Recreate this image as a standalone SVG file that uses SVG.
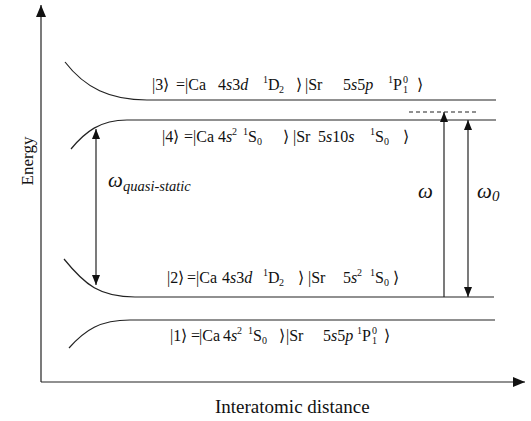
<svg xmlns="http://www.w3.org/2000/svg" width="531" height="421" viewBox="0 0 531 421">
<style>
  .ln{fill:none;stroke:#222;stroke-width:1.2}
  .t{font-family:'Liberation Serif','Times New Roman',Times,serif;font-size:16px;fill:#111}
  .s{font-family:'Liberation Serif','Times New Roman',Times,serif;font-size:10px;fill:#111}
  .i{font-style:italic}
</style>
<defs>
  <marker id="ah" viewBox="0 0 10 8" refX="10" refY="4" markerWidth="10" markerHeight="8" markerUnits="userSpaceOnUse" orient="auto-start-reverse">
    <path d="M0,0 L10,4 L0,8 Z" fill="#111"/>
  </marker>
  <marker id="ahb" viewBox="0 0 12 10" refX="12" refY="5" markerWidth="12" markerHeight="10" markerUnits="userSpaceOnUse" orient="auto">
    <path d="M0,0 L12,5 L0,10 Z" fill="#111"/>
  </marker>
</defs>
<rect width="531" height="421" fill="#fff"/>

<g id="axes">
  <line class="ln" x1="41" y1="382" x2="41" y2="5" marker-end="url(#ahb)"/>
  <line class="ln" x1="41" y1="382" x2="525" y2="382" marker-end="url(#ahb)"/>
  <text class="t" style="font-size:17px" text-anchor="middle" transform="translate(33,161) rotate(-90)">Energy</text>
  <text class="t" style="font-size:19px" x="215" y="413">Interatomic distance</text>
</g>

<g id="state3">
  <path class="ln" d="M65,62 C85,88 110,100 147,100 L496,100"/>
  <text class="t" y="90"><tspan x="152">|3⟩</tspan><tspan x="176">=</tspan><tspan x="185">|Ca</tspan><tspan x="218">4<tspan class="i">s</tspan>3<tspan class="i">d</tspan></tspan><tspan x="268">D</tspan><tspan x="296">⟩</tspan><tspan x="305">|Sr</tspan><tspan x="343">5<tspan class="i">s</tspan>5<tspan class="i">p</tspan></tspan><tspan x="393">P</tspan><tspan x="417">⟩</tspan></text>
  <text class="s" x="263" y="83">1</text><text class="s" x="279" y="93">2</text>
  <text class="s" x="388" y="83">1</text><text class="s" x="403" y="93">1</text><text class="s" x="403" y="83">0</text>
</g>

<g id="state4">
  <path class="ln" d="M71,149 C85,132 100,120 127,120 L496,120"/>
  <text class="t" y="142"><tspan x="162">|4⟩</tspan><tspan x="184">=</tspan><tspan x="193">|Ca</tspan><tspan x="218">4<tspan class="i">s</tspan></tspan><tspan x="248">S</tspan><tspan x="283">⟩</tspan><tspan x="293">|Sr</tspan><tspan x="318">5<tspan class="i">s</tspan>10<tspan class="i">s</tspan></tspan><tspan x="375">S</tspan><tspan x="403">⟩</tspan></text>
  <text class="s" x="232" y="135">2</text><text class="s" x="243" y="135">1</text><text class="s" x="257" y="145">0</text>
  <text class="s" x="370" y="135">1</text><text class="s" x="384" y="145">0</text>
</g>

<g id="state2">
  <path class="ln" d="M64,259 C85,285 100,297 135,297 L494,297"/>
  <text class="t" y="283"><tspan x="167">|2⟩</tspan><tspan x="187">=</tspan><tspan x="196">|Ca</tspan><tspan x="222">4<tspan class="i">s</tspan>3<tspan class="i">d</tspan></tspan><tspan x="268">D</tspan><tspan x="298">⟩</tspan><tspan x="308">|Sr</tspan><tspan x="343">5<tspan class="i">s</tspan></tspan><tspan x="375">S</tspan><tspan x="393">⟩</tspan></text>
  <text class="s" x="263" y="276">1</text><text class="s" x="279" y="286">2</text>
  <text class="s" x="357" y="276">2</text><text class="s" x="370" y="276">1</text><text class="s" x="384" y="286">0</text>
</g>

<g id="state1">
  <path class="ln" d="M69,348 C85,330 100,320 130,320 L495,320"/>
  <text class="t" y="341"><tspan x="170">|1⟩</tspan><tspan x="191">=</tspan><tspan x="199">|Ca</tspan><tspan x="223">4<tspan class="i">s</tspan></tspan><tspan x="253">S</tspan><tspan x="279">⟩</tspan><tspan x="286">|Sr</tspan><tspan x="323">5<tspan class="i">s</tspan>5<tspan class="i">p</tspan></tspan><tspan x="362">P</tspan><tspan x="384">⟩</tspan></text>
  <text class="s" x="237" y="334">2</text><text class="s" x="248" y="334">1</text><text class="s" x="262" y="344">0</text>
  <text class="s" x="357" y="334">1</text><text class="s" x="372" y="344">1</text><text class="s" x="372" y="334">0</text>
</g>

<g id="virtual">
  <line class="ln" x1="409" y1="112" x2="478" y2="112" stroke-dasharray="4,3" stroke-width="1"/>
</g>

<g id="connectors">
  <line class="ln" x1="96" y1="129" x2="96" y2="285" marker-start="url(#ah)" marker-end="url(#ah)"/>
  <line class="ln" x1="444" y1="297" x2="444" y2="112" marker-end="url(#ah)"/>
  <line class="ln" x1="468" y1="120" x2="468" y2="297" marker-start="url(#ah)" marker-end="url(#ah)"/>
</g>

<g id="labels">
  <text class="t i" x="108" y="187" style="font-size:21px">ω</text>
  <text class="t i" x="123" y="191" style="font-size:14.5px">quasi-static</text>
  <text class="t i" x="418" y="198" style="font-size:21px">ω</text>
  <text class="t i" x="477" y="198" style="font-size:21px">ω</text>
  <text class="t i" x="492" y="201" style="font-size:15px">0</text>
</g>
</svg>
